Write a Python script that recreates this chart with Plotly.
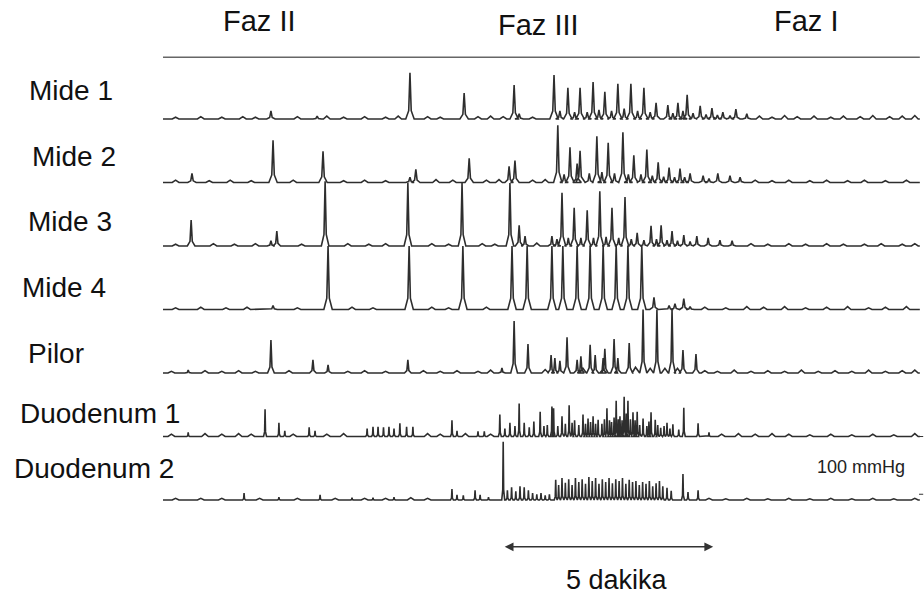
import plotly.graph_objects as go

# ---------------- data (time in minutes, amplitude in mmHg) ----------------
channels = ["Mide 1", "Mide 2", "Mide 3", "Mide 4", "Pilor", "Duodenum 1", "Duodenum 2"]
channel_spacing = 110          # mmHg between channel baselines
record_end = 18.02             # minutes shown

m1_t = [2.57, 3.67, 5.88, 7.17, 8.36, 8.48, 9.31, 9.45, 9.64, 9.80, 9.93, 10.10, 10.24, 10.38, 10.52,
        10.68, 10.83, 10.98, 11.14, 11.30, 11.45, 11.60, 11.74, 12.02, 12.14, 12.26, 12.38, 12.48,
        12.62, 12.79, 12.93, 13.07, 13.20, 13.33, 13.50, 13.64, 13.90]
m1_h = [14, 5, 80, 45, 59, 9, 76, 14, 54, 12, 54, 12, 64, 16, 47,
        14, 61, 18, 61, 14, 54, 12, 28, 24, 10, 28, 14, 42,
        10, 23, 8, 19, 7, 12, 6, 17, 9]
m1_noise_t = [0.3, 0.9, 1.4, 1.9, 2.2, 3.2, 3.9, 4.3, 4.8, 5.3, 5.6, 6.3, 6.6, 7.5, 7.8, 8.1, 8.8,
              14.2, 14.5, 14.8, 15.1, 15.5, 15.9, 16.2, 16.6, 16.9, 17.3, 17.6, 17.9]
m1_noise_h = [3, 4, 3, 4, 3, 4, 5, 3, 4, 3, 5, 4, 3, 4, 5, 4, 3,
              5, 3, 6, 4, 5, 3, 5, 4, 6, 4, 5, 6]

m2_t = [0.69, 2.62, 3.81, 5.88, 6.02, 7.29, 8.24, 8.38, 9.40, 9.55, 9.69, 9.86, 9.93, 10.15, 10.33,
        10.45, 10.60, 10.75, 10.95, 11.08, 11.21, 11.38, 11.52, 11.65, 11.79, 11.92, 12.05, 12.18,
        12.31, 12.42, 12.55, 12.86, 13.00, 13.21, 13.50, 13.74]
m2_h = [16, 73, 54, 9, 23, 42, 28, 38, 99, 14, 61, 33, 55, 16, 80,
        18, 69, 16, 87, 14, 47, 14, 57, 12, 35, 10, 26, 9,
        24, 9, 16, 12, 7, 16, 12, 9]
m2_noise_t = [0.3, 1.1, 1.6, 2.1, 3.1, 4.3, 4.8, 5.3, 6.5, 6.9, 7.7, 8.0, 8.8, 9.1,
              14.1, 14.5, 14.9, 15.4, 15.8, 16.3, 16.7, 17.2, 17.7]
m2_noise_h = [4, 3, 4, 3, 4, 3, 4, 3, 5, 4, 4, 5, 4, 5,
              4, 3, 4, 3, 4, 3, 4, 3, 4]

m3_t = [0.67, 2.57, 2.71, 3.86, 5.83, 7.12, 8.26, 8.48, 8.62, 9.26, 9.38, 9.50, 9.65, 9.79, 9.95,
        10.10, 10.25, 10.40, 10.55, 10.69, 10.85, 11.00, 11.15, 11.29, 11.45, 11.62, 11.75, 11.86,
        12.00, 12.12, 12.25, 12.40, 12.55, 12.71, 12.98, 13.26, 13.55]
m3_h = [45, 9, 26, 112, 109, 109, 109, 36, 17, 17, 12, 92, 14, 66, 14,
        62, 14, 95, 16, 66, 14, 85, 12, 23, 10, 35, 12, 36,
        10, 26, 9, 19, 8, 17, 14, 10, 9]
m3_noise_t = [0.3, 1.2, 1.7, 2.2, 3.3, 4.4, 4.9, 5.3, 6.4, 6.8, 7.6, 7.9, 8.9,
              14.0, 14.4, 14.9, 15.3, 15.8, 16.2, 16.7, 17.1, 17.6, 17.9]
m3_noise_h = [3, 4, 3, 4, 3, 4, 3, 4, 4, 3, 4, 3, 5,
              4, 3, 4, 3, 4, 3, 3, 4, 3, 4]

m4_t = [2.62, 3.93, 5.86, 7.14, 8.31, 8.67, 9.26, 9.52, 9.86, 10.17, 10.48, 10.79, 11.07, 11.40,
        11.69, 12.05, 12.19, 12.40, 12.55]
m4_h = [7, 110, 110, 110, 110, 110, 110, 110, 110, 110, 110, 110, 110, 110,
        21, 7, 10, 19, 5]
m4_noise_t = [0.3, 0.9, 1.5, 2.0, 3.2, 4.5, 5.0, 6.4, 6.8, 7.7, 12.9, 13.4, 13.9, 14.3, 14.8,
              15.3, 15.8, 16.3, 16.8, 17.2, 17.7]
m4_noise_h = [3, 4, 3, 4, 3, 4, 3, 4, 3, 4, 4, 3, 5, 4, 5,
              3, 4, 5, 3, 4, 5]

p_t = [0.60, 2.57, 3.57, 3.93, 5.83, 8.07, 8.36, 8.69, 9.24, 9.33, 9.45, 9.62, 9.86, 9.95, 10.17,
       10.29, 10.48, 10.52, 10.74, 10.83, 11.10, 11.43, 11.76, 12.12, 12.38, 12.69]
p_h = [5, 57, 23, 14, 23, 9, 90, 50, 31, 26, 21, 62, 23, 29, 49,
       31, 26, 42, 59, 26, 52, 110, 110, 110, 40, 33]
p_noise_t = [0.2, 1.0, 1.4, 1.8, 2.2, 3.0, 4.4, 4.8, 5.3, 6.2, 6.6, 7.0, 7.5, 7.8, 9.1, 10.0,
             11.25, 11.6, 11.95, 12.25, 12.9, 13.2, 13.6, 14.0, 14.4, 14.8, 15.2, 15.6, 16.0,
             16.4, 16.8, 17.2, 17.6, 17.9]
p_noise_h = [3, 4, 3, 4, 3, 4, 3, 4, 3, 4, 3, 4, 3, 5, 6, 8,
             10, 8, 8, 8, 4, 3, 5, 3, 4, 3, 5, 3, 4,
             3, 5, 3, 4, 5]

d1_t = [0.60, 2.43, 2.76, 2.90, 3.48, 3.62, 4.86, 5.00, 5.12, 5.25, 5.38, 5.50, 5.64, 5.80, 5.95,
        6.88, 7.00, 7.50, 7.65, 8.02, 8.14, 8.26, 8.38, 8.48, 8.60, 8.72, 8.83, 8.98, 9.07, 9.15,
        9.26, 9.30, 9.40, 9.50, 9.58, 9.67, 9.74, 9.80, 9.90, 10.00, 10.06, 10.12, 10.18, 10.24,
        10.30, 10.36, 10.45, 10.51, 10.57, 10.63, 10.68, 10.74, 10.79, 10.84, 10.88, 10.93, 10.98,
        11.03, 11.07, 11.13, 11.19, 11.24, 11.29, 11.35, 11.43, 11.52, 11.57, 11.62, 11.72, 11.78,
        11.85, 11.93, 12.00, 12.07, 12.14, 12.28, 12.40, 12.74, 13.00]
d1_h = [7, 47, 24, 10, 16, 10, 14, 17, 17, 16, 17, 14, 23, 17, 17,
        28, 10, 9, 9, 38, 14, 24, 18, 57, 24, 16, 26, 43, 18, 20,
        52, 49, 18, 35, 22, 54, 24, 28, 20, 38, 22, 31, 25, 35,
        22, 29, 22, 30, 49, 28, 25, 33, 62, 30, 35, 28, 69,
        40, 62, 30, 42, 28, 43, 20, 31, 18, 26, 42, 29, 20,
        15, 18, 24, 14, 21, 12, 50, 23, 7]
d1_noise_t = [0.2, 1.0, 1.4, 1.8, 2.1, 3.1, 3.9, 4.3, 6.3, 6.6, 7.2, 7.8, 13.3, 13.7, 14.1,
              14.5, 14.9, 15.4, 15.9, 16.4, 16.9, 17.4, 17.9]
d1_noise_h = [4, 5, 4, 5, 4, 4, 4, 5, 5, 4, 5, 4, 4, 5, 4,
              5, 4, 3, 4, 3, 4, 3, 5]

d2_t = [1.93, 2.76, 3.74, 4.50, 5.00, 5.50, 6.88, 7.00, 7.15, 7.43, 7.55, 7.75, 8.10, 8.20, 8.30,
        8.40, 8.50, 8.60, 8.70, 8.80, 8.90, 9.00, 9.10, 9.20, 9.35, 9.42, 9.50, 9.58, 9.66, 9.74,
        9.82, 9.90, 9.98, 10.06, 10.14, 10.22, 10.30, 10.38, 10.46, 10.54, 10.62, 10.70, 10.78,
        10.86, 10.94, 11.02, 11.10, 11.18, 11.26, 11.34, 11.42, 11.50, 11.58, 11.66, 11.74, 11.82,
        11.90, 12.00, 12.10, 12.38, 12.50, 12.74]
d2_h = [12, 5, 9, 4, 4, 5, 19, 9, 8, 17, 9, 5, 101, 17, 22,
        15, 24, 22, 17, 12, 10, 12, 8, 10, 35, 26, 38, 30, 36, 26,
        38, 31, 36, 28, 40, 33, 38, 28, 36, 31, 38, 29, 36,
        33, 38, 28, 35, 31, 33, 26, 31, 28, 33, 24, 29, 33,
        24, 21, 16, 45, 14, 17]
d2_noise_t = [0.3, 0.9, 1.4, 2.3, 3.2, 4.1, 4.8, 5.3, 5.9, 6.3, 13.0, 13.4, 13.9, 14.4, 14.9,
              15.4, 15.9, 16.4, 16.9, 17.4, 17.9]
d2_noise_h = [3, 3, 3, 3, 3, 3, 3, 3, 4, 3, 3, 2, 3, 2, 3,
              2, 3, 2, 3, 2, 3]

peak_times = [m1_t, m2_t, m3_t, m4_t, p_t, d1_t, d2_t]
peak_heights = [m1_h, m2_h, m3_h, m4_h, p_h, d1_h, d2_h]
noise_times = [m1_noise_t, m2_noise_t, m3_noise_t, m4_noise_t, p_noise_t, d1_noise_t, d2_noise_t]
noise_heights = [m1_noise_h, m2_noise_h, m3_noise_h, m4_noise_h, p_noise_h, d1_noise_h, d2_noise_h]

phase_labels = ["Faz II", "Faz III", "Faz I"]
phase_times = [2.29, 8.93, 15.30]
scale_label = "100 mmHg"
scale_mmHg = 100
time_bar_start, time_bar_minutes = 8.1, 5
time_bar_label = "5 dakika"

# ---------------- styling ----------------
peak_half_width = [0.1, 0.1, 0.09, 0.1, 0.08, 0.035, 0.035]
noise_half_width = 0.08
label_x = [-3.24, -3.17, -3.26, -3.40, -3.26, -3.45, -3.60]   # minutes (left of recording)
label_dy = [50, 45, 42, 38, 34, 40, 54]                        # mmHg above baseline
phase_dy = [60, 52, 60]
FONT = "Liberation Sans, Arial, Helvetica, sans-serif"
LINE = "#2e2e2e"


def build_trace(times, heights, n_times, n_heights, hw):
    items = [(t, h, hw, True) for t, h in zip(times, heights)]
    items += [(t, h, noise_half_width, False) for t, h in zip(n_times, n_heights)]
    items.sort()
    xs, ys = [0.0], [0.0]
    for t, h, w, sharp in items:
        if sharp:
            xs += [t - w, t - 0.3 * w, t, t + 0.3 * w, t + w]
            ys += [0.0, 0.18 * h, h, 0.18 * h, 0.0]
        else:
            xs += [t - w, t, t + w]
            ys += [0.0, h, 0.0]
    xs.append(record_end)
    ys.append(0.0)
    return xs, ys


fig = go.Figure()
annotations = []
for k, name in enumerate(channels):
    base = -k * channel_spacing
    xs, ys = build_trace(peak_times[k], peak_heights[k], noise_times[k], noise_heights[k],
                         peak_half_width[k])
    fig.add_trace(go.Scatter(x=xs, y=[base + v for v in ys], mode="lines",
                             line=dict(color=LINE, width=1.6), hoverinfo="skip",
                             showlegend=False))
    annotations.append(dict(x=label_x[k], y=base + label_dy[k], text=name, showarrow=False,
                            xanchor="left", yanchor="middle",
                            font=dict(family=FONT, size=28, color="#111")))

# phase labels and top line
for lab, t, dy in zip(phase_labels, phase_times, phase_dy):
    annotations.append(dict(x=t, y=channel_spacing + dy, text=lab, showarrow=False,
                            xanchor="center", yanchor="middle",
                            font=dict(family=FONT, size=29, color="#111")))

shapes = [dict(type="line", x0=0, x1=record_end, y0=channel_spacing - 3, y1=channel_spacing - 3,
               line=dict(color="#666", width=1.5))]

# pressure scale ticks (Duodenum 1 baseline and 100 mmHg below)
d1_base = -5 * channel_spacing
for yv in (d1_base, d1_base - scale_mmHg):
    shapes.append(dict(type="line", x0=record_end - 0.02, x1=record_end + 0.08, y0=yv, y1=yv,
                       line=dict(color="#333", width=1)))
annotations.append(dict(x=record_end - 0.3, y=d1_base - 52, text=scale_label, showarrow=False,
                        xanchor="right", yanchor="middle",
                        font=dict(family=FONT, size=18, color="#222")))

# time bar
bar_y = -741
annotations.append(dict(x=time_bar_start + time_bar_minutes, y=bar_y, ax=time_bar_start, ay=bar_y,
                        xref="x", yref="y", axref="x", ayref="y", text="", showarrow=True,
                        arrowhead=2, arrowside="end+start", arrowsize=1.1, arrowwidth=1.6,
                        arrowcolor="#333"))
annotations.append(dict(x=time_bar_start + time_bar_minutes / 2 + 0.2, y=bar_y - 57,
                        text=time_bar_label, showarrow=False, xanchor="center", yanchor="middle",
                        font=dict(family=FONT, size=27, color="#111")))

px_per_min = 42.0
px_per_mmHg = 0.5773
fig.update_layout(
    width=924, height=606,
    margin=dict(l=0, r=0, t=0, b=0),
    paper_bgcolor="white", plot_bgcolor="white",
    xaxis=dict(range=[-163 / px_per_min, (924 - 163) / px_per_min], visible=False, fixedrange=True),
    yaxis=dict(range=[-(606 - 119) / px_per_mmHg, 119 / px_per_mmHg], visible=False, fixedrange=True),
    annotations=annotations, shapes=shapes,
)
fig.write_html("out.html", config={"displayModeBar": False},
               post_script="document.body.style.margin='0px';")
